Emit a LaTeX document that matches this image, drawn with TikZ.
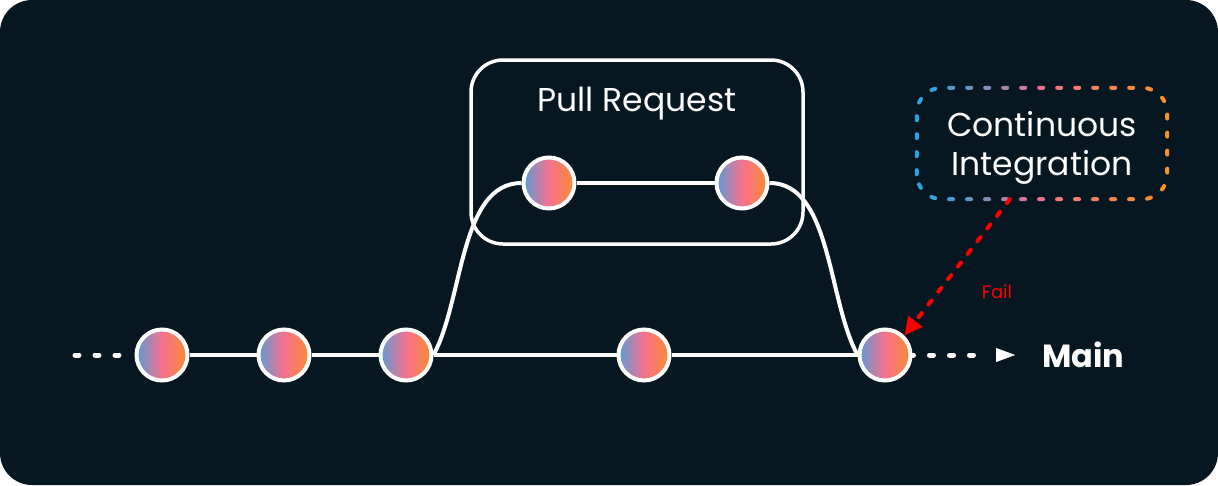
\documentclass[tikz,border=0pt]{standalone}
\usepackage{fontspec}
\setmainfont{Poppins}
\usetikzlibrary{positioning,arrows.meta,backgrounds}
\definecolor{bgdark}{HTML}{071721}
\definecolor{cblue}{HTML}{5B9BD5}
\definecolor{cpink}{HTML}{F7718F}
\definecolor{corange}{HTML}{F88C2C}
\definecolor{ciblue}{HTML}{2AA3DE}
\definecolor{cipink}{HTML}{F2708F}
\definecolor{ciorange}{HTML}{F7941D}
\definecolor{failred}{HTML}{FF0000}
\tikzset{
    commit/.style = {circle, draw=white, line width=4pt, minimum size=51pt, inner sep=0pt, left color=cblue, right color=corange, middle color=cpink},
    branch/.style = {draw=white, line width=4pt},
    dotline/.style = {draw=white, line width=5pt, line cap=round, dash pattern=on 4pt off 16pt},
    pr-box/.style = {draw=white, line width=3.5pt, rounded corners=32pt, minimum width=332pt, minimum height=184pt},
    ci-dash/.style = {line width=4pt, line cap=round, dash pattern=on 4pt off 14pt, rounded corners=25pt},
    fail-arrow/.style = {draw=failred, line width=4pt, line cap=round, dash pattern=on 5pt off 11pt, -{Triangle[length=18pt, width=17pt]}},
    label-text/.style = {text=white, font=\fontsize{33}{39}\selectfont},
}

\begin{document}
\begin{tikzpicture}[x=1pt, y=-1pt]
\useasboundingbox (0,0) rectangle (1218,485);
% commits on main
\node[commit] (c1) at (162,355) {};
\node[commit] (c2) at (284,355) {};
\node[commit] (c3) at (406,355) {};
\node[commit] (c4) at (644,355) {};
\node[commit] (c5) at (885,355) {};
% commits of the pull request
\node[commit] (p1) at (549,183) {};
\node[commit] (p2) at (742,183) {};

\node[pr-box] (pr) at (637,152) {};
\node[label-text] (prtitle) at (637,104) {Pull Request};

\node[minimum width=250pt, minimum height=111pt] (ci) at (1042,143.5) {};
\node[label-text, align=center] (citext) at ([yshift=-4pt]ci.center) {Continuous\\Integration};
\foreach \xa/\col in {912/ciblue, 932/cipink!12!ciblue, 952/cipink!28!ciblue, 972/cipink!45!ciblue, 992/cipink!62!ciblue, 1012/cipink!80!ciblue, 1032/cipink, 1052/ciorange!15!cipink, 1072/ciorange!30!cipink, 1092/ciorange!45!cipink, 1112/ciorange!62!cipink, 1132/ciorange!80!cipink, 1152/ciorange} {
    \begin{scope}
    \clip (\xa,80) rectangle ++(20,130);
    \draw[ci-dash, \col] (ci.south west) rectangle (ci.north east);
    \end{scope}
}

\coordinate (origin) at (75,355);
\coordinate (tail) at (982,355);
\coordinate (mainend) at (1015,355);
\node[right=27pt of mainend, inner sep=0pt, text=white, font=\fontsize{32}{36}\selectfont\bfseries] (main) {Main};

\draw[fail-arrow] (ci.-120) -- (c5.45);
\node[text=failred, font=\fontsize{18}{20}\selectfont] (fail) at (997,292) {Fail};

\begin{scope}[on background layer]
\fill[bgdark, rounded corners=32pt] (0,0) rectangle (1218,485);
\draw[branch] (c1) -- (c2) -- (c3) -- (c4) -- (c5);
\draw[branch] (p1) -- (p2);
\draw[branch] (c3.east) .. controls +(30,-55) and +(-62,0) .. (p1.west);
\draw[branch] (p2.east) .. controls +(62,0) and +(-30,-55) .. (c5.west);
\draw[dotline] (origin) -- (c1);
\draw[dotline, dash phase=3pt] (c5) -- (tail);
\draw[white, shorten <=14pt, -{Triangle[length=19pt, width=14pt]}] (tail) -- (mainend);
\end{scope}
\end{tikzpicture}
\end{document}
